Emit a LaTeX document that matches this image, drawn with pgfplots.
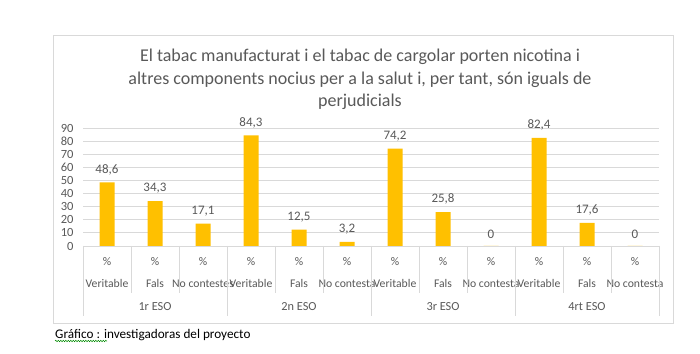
\documentclass[border=0pt]{standalone}
\usepackage{pgfplots}
\pgfplotsset{compat=1.18}
\usepackage{fontspec}
\setmainfont{Carlito}
\usetikzlibrary{decorations.pathmorphing}
\definecolor{barc}{HTML}{FFC000}
\definecolor{gridc}{HTML}{D9D9D9}
\definecolor{txt}{HTML}{595959}
\begin{document}
\begin{tikzpicture}[x=1pt,y=1pt]
\path[use as bounding box] (0,0) rectangle (700,353);
\fill[white] (0,0) rectangle (700,353);
\draw[gridc, line width=0.9pt] (53,30) rectangle (673,318);
\node[txt, font=\fontsize{18}{22.5}\selectfont, align=center] at (360,273.5)
  {El tabac manufacturat i el tabac de cargolar porten nicotina i\\altres components nocius per a la salut i, per tant, són iguals de\\perjudicials};
\begin{axis}[
  at={(83pt,107pt)}, anchor=south west,
  scale only axis, width=576pt, height=118pt,
  xmin=-0.5, xmax=11.5, ymin=0, ymax=90,
  ytick={0,10,...,90},
  xtick={0,...,11},
  xticklabels={{\%\\Veritable},{\%\\Fals},{\%\\No contestes},{\%\\Veritable},{\%\\Fals},{\%\\No contesta},{\%\\Veritable},{\%\\Fals},{\%\\No contesta},{\%\\Veritable},{\%\\Fals},{\%\\No contesta}},
  xticklabel style={align=center, font=\fontsize{11.7}{22}\selectfont, text=txt, yshift=-3.5pt},
  yticklabel style={font=\fontsize{12.5}{13}\selectfont, text=txt, xshift=-6pt},
  /pgf/number format/assume math mode=true,
  ymajorgrids, grid style={gridc, line width=0.8pt},
  axis lines*=left,
  x axis line style={gridc, line width=0.8pt, -},
  y axis line style={draw=none},
  tick style={draw=none},
  clip=false,
  ybar, bar width=15pt,
  nodes near coords={\pgfmathprintnumber[fixed, precision=1, use comma, assume math mode=true]{\pgfplotspointmeta}},
  nodes near coords style={font=\fontsize{13}{14}\selectfont, text=txt, yshift=4pt},
]
\addplot[fill=barc, draw=none] coordinates {
  (0,48.6) (1,34.3) (2,17.1) (3,84.3) (4,12.5) (5,3.2)
  (6,74.2) (7,25.8) (8,0) (9,82.4) (10,17.6) (11,0)};
\pgfplotsinvokeforeach{0.5,1.5,3.5,4.5,6.5,7.5,9.5,10.5}{
  \draw[gridc, line width=0.8pt] (axis cs:#1,0) -- ([yshift=-47pt]axis cs:#1,0);
}
\pgfplotsinvokeforeach{-0.5,2.5,5.5,8.5,11.5}{
  \draw[gridc, line width=0.8pt] (axis cs:#1,0) -- ([yshift=-70pt]axis cs:#1,0);
}
\node[txt, font=\fontsize{12.3}{13}\selectfont] at ([yshift=-61pt]axis cs:1,0) {1r ESO};
\node[txt, font=\fontsize{12.3}{13}\selectfont] at ([yshift=-61pt]axis cs:4,0) {2n ESO};
\node[txt, font=\fontsize{12.3}{13}\selectfont] at ([yshift=-61pt]axis cs:7,0) {3r ESO};
\node[txt, font=\fontsize{12.3}{13}\selectfont] at ([yshift=-61pt]axis cs:10,0) {4rt ESO};
\end{axis}
\node[anchor=west, font=\fontsize{13.2}{14}\selectfont, inner sep=0pt] (cap) at (55,18) {Gráfico : investigadoras del proyecto};
\draw[green!55!black, line width=0.5pt, decorate, decoration={snake, amplitude=0.7pt, segment length=2.5pt}] (55,12) -- (107,12);
\end{tikzpicture}
\end{document}
